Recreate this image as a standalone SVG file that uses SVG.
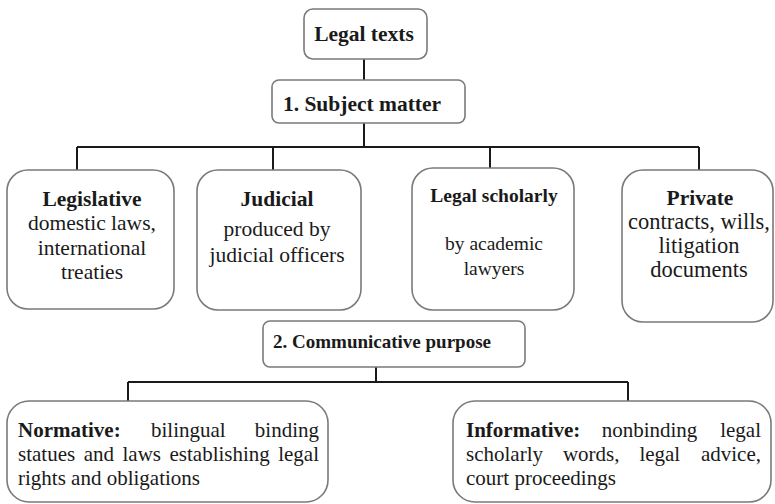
<svg xmlns="http://www.w3.org/2000/svg" width="775" height="504" viewBox="0 0 775 504">
<style>
.box{fill:#fff;stroke:#7a7a7a;stroke-width:1.6}
.con{fill:none;stroke:#1a1a1a;stroke-width:2}
.t{font-family:"Liberation Serif","DejaVu Serif",serif;fill:#1a1a1a;font-size:21.5px}
.tb{font-weight:bold}
.tm{text-anchor:middle}
</style>
<rect width="775" height="504" fill="#fff"/>
<g id="connectors">
<path class="con" d="M364 59V80M364 123V147M77 147H699M77 147V170M273 147V170M490 147V168M699 147V170"/>
<path class="con" d="M376 367V382M128 382H628M128 382V401M628 382V401"/>
</g>
<g id="legal-texts">
<rect class="box" x="304" y="9" width="123" height="50" rx="9"/>
<text class="t tb tm" x="364" y="41">Legal texts</text>
</g>
<g id="subject-matter">
<rect class="box" x="272" y="80" width="193" height="43" rx="7"/>
<text class="t tb tm" x="362" y="111">1. Subject matter</text>
</g>
<g id="legislative">
<rect class="box" x="7" y="170" width="167" height="139" rx="21"/>
<text class="t tb tm" x="92" y="206">Legislative</text>
<text class="t tm" x="92" y="230">domestic laws,</text>
<text class="t tm" x="92" y="255">international</text>
<text class="t tm" x="92" y="279">treaties</text>
</g>
<g id="judicial">
<rect class="box" x="197" y="170" width="164" height="140" rx="21"/>
<text class="t tb tm" x="277" y="206">Judicial</text>
<text class="t tm" x="277" y="236">produced by</text>
<text class="t tm" x="277" y="262">judicial officers</text>
</g>
<g id="legal-scholarly">
<rect class="box" x="412" y="168" width="162" height="142" rx="21"/>
<text class="t tb tm" x="494" y="202" font-size="19.5" style="font-size:19.5px">Legal scholarly</text>
<text class="t tm" x="494" y="250" style="font-size:19.5px">by academic</text>
<text class="t tm" x="494" y="275" style="font-size:19.5px">lawyers</text>
</g>
<g id="private">
<rect class="box" x="622" y="170" width="151" height="152" rx="21"/>
<text class="t tb tm" x="700" y="205">Private</text>
<text class="t tm" x="699" y="229" style="font-size:22.5px">contracts, wills,</text>
<text class="t tm" x="699" y="253" style="font-size:22.5px">litigation</text>
<text class="t tm" x="699" y="277" style="font-size:22.5px">documents</text>
</g>
<g id="communicative-purpose">
<rect class="box" x="263" y="321" width="262" height="46" rx="7"/>
<text class="t tb" x="273" y="348" style="font-size:19px">2. Communicative purpose</text>
</g>
<g id="normative">
<rect class="box" x="7" y="401" width="321" height="101" rx="22"/>
<text class="t" style="font-size:21px" y="437"><tspan class="tb" x="18">Normative:</tspan><tspan x="151">bilingual</tspan><tspan x="319" text-anchor="end">binding</tspan></text>
<text class="t" style="font-size:21px" y="461"><tspan x="18">statues</tspan><tspan x="83.7">and</tspan><tspan x="122.5">laws</tspan><tspan x="169.5">establishing</tspan><tspan x="319" text-anchor="end">legal</tspan></text>
<text class="t" style="font-size:21px" x="18" y="485">rights and obligations</text>
</g>
<g id="informative">
<rect class="box" x="453" y="401" width="318" height="101" rx="22"/>
<text class="t" style="font-size:21px" y="437"><tspan class="tb" x="466">Informative:</tspan><tspan x="601.7">nonbinding</tspan><tspan x="761" text-anchor="end">legal</tspan></text>
<text class="t" style="font-size:21px" y="461"><tspan x="466">scholarly</tspan><tspan x="562.9">words,</tspan><tspan x="639.4">legal</tspan><tspan x="761" text-anchor="end">advice,</tspan></text>
<text class="t" style="font-size:21px" x="466" y="485">court proceedings</text>
</g>
</svg>
